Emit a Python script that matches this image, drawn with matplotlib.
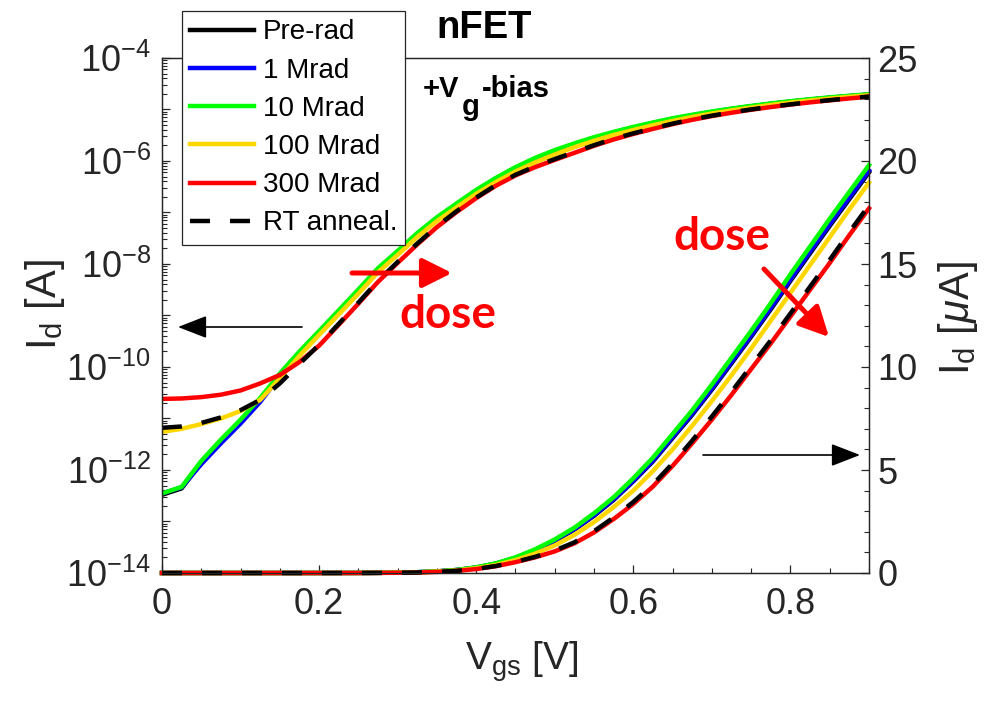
import matplotlib
matplotlib.use('Agg')
import matplotlib.pyplot as plt
import numpy as np
from matplotlib.ticker import FixedLocator, FuncFormatter, MultipleLocator, LogLocator

# gate voltage sweep [V]
vgs = [0.0, 0.025, 0.05, 0.075, 0.1, 0.125, 0.15, 0.175, 0.2, 0.225, 0.25, 0.275,
       0.3, 0.325, 0.35, 0.375, 0.4, 0.425, 0.45, 0.475, 0.5, 0.525, 0.55, 0.575,
       0.6, 0.625, 0.65, 0.675, 0.7, 0.725, 0.75, 0.775, 0.8, 0.825, 0.85, 0.875, 0.9]

# drain current [A]
id_prerad = [3.3e-13, 4.4e-13, 1.4e-12, 3.6e-12, 8.8e-12, 2.3e-11, 6.8e-11, 1.9e-10, 4.7e-10,
             1.2e-9, 3.05e-9, 7.9e-9, 1.7e-8, 3.8e-8, 7.7e-8, 1.43e-7, 2.62e-7, 4.48e-7, 7.25e-7,
             1.1e-6, 1.56e-6, 2.11e-6, 2.78e-6, 3.55e-6, 4.45e-6, 5.42e-6, 6.55e-6, 7.68e-6,
             8.9e-6, 10.18e-6, 11.47e-6, 12.8e-6, 14.18e-6, 15.52e-6, 16.85e-6, 18.15e-6, 19.45e-6]
id_1mrad = [3.5e-13, 4.6e-13, 1.3e-12, 3.3e-12, 8.0e-12, 2.1e-11, 6.6e-11, 1.9e-10, 4.75e-10,
            1.2e-9, 3.1e-9, 8.0e-9, 1.72e-8, 3.85e-8, 7.8e-8, 1.45e-7, 2.65e-7, 4.52e-7, 7.3e-7,
            1.11e-6, 1.58e-6, 2.13e-6, 2.8e-6, 3.58e-6, 4.48e-6, 5.46e-6, 6.6e-6, 7.73e-6,
            8.95e-6, 10.24e-6, 11.53e-6, 12.87e-6, 14.25e-6, 15.6e-6, 16.93e-6, 18.23e-6, 19.53e-6]
id_10mrad = [3.5e-13, 4.7e-13, 1.5e-12, 3.9e-12, 9.5e-12, 2.5e-11, 7.5e-11, 2.0e-10, 5.0e-10,
             1.26e-9, 3.2e-9, 8.3e-9, 1.8e-8, 4.0e-8, 8.1e-8, 1.5e-7, 2.75e-7, 4.7e-7, 7.6e-7,
             1.15e-6, 1.63e-6, 2.2e-6, 2.9e-6, 3.68e-6, 4.6e-6, 5.6e-6, 6.75e-6, 7.9e-6,
             9.15e-6, 10.45e-6, 11.75e-6, 13.1e-6, 14.5e-6, 15.85e-6, 17.2e-6, 18.5e-6, 19.8e-6]
id_100mrad = [5.5e-12, 6.3e-12, 7.8e-12, 1.0e-11, 1.4e-11, 2.3e-11, 6.0e-11, 1.65e-10, 4.2e-10,
              1.05e-9, 2.65e-9, 6.9e-9, 1.5e-8, 3.35e-8, 6.8e-8, 1.26e-7, 2.3e-7, 3.9e-7, 6.25e-7,
              9.4e-7, 1.34e-6, 1.85e-6, 2.47e-6, 3.2e-6, 4.0e-6, 4.95e-6, 6.0e-6, 7.15e-6,
              8.35e-6, 9.6e-6, 10.9e-6, 12.25e-6, 13.6e-6, 14.95e-6, 16.3e-6, 17.65e-6, 18.95e-6]
id_300mrad = [2.4e-11, 2.45e-11, 2.6e-11, 2.9e-11, 3.5e-11, 4.8e-11, 7.0e-11, 1.25e-10, 2.6e-10,
              6.6e-10, 1.7e-9, 4.5e-9, 1.05e-8, 2.4e-8, 5.2e-8, 1.02e-7, 1.9e-7, 3.3e-7, 5.25e-7,
              7.6e-7, 1.05e-6, 1.44e-6, 1.97e-6, 2.62e-6, 3.35e-6, 4.2e-6, 5.2e-6, 6.3e-6,
              7.45e-6, 8.65e-6, 9.9e-6, 11.15e-6, 12.45e-6, 13.75e-6, 15.05e-6, 16.4e-6, 17.7e-6]
id_anneal = [6.6e-12, 7.0e-12, 8.2e-12, 1.05e-11, 1.45e-11, 2.3e-11, 4.8e-11, 1.15e-10, 2.7e-10,
             6.9e-10, 1.78e-9, 4.7e-9, 1.1e-8, 2.5e-8, 5.4e-8, 1.06e-7, 1.95e-7, 3.4e-7, 5.4e-7,
             7.85e-7, 1.09e-6, 1.49e-6, 2.03e-6, 2.7e-6, 3.45e-6, 4.3e-6, 5.32e-6, 6.43e-6,
             7.6e-6, 8.8e-6, 10.05e-6, 11.3e-6, 12.6e-6, 13.9e-6, 15.2e-6, 16.55e-6, 17.85e-6]

labels = ['Pre-rad', '1 Mrad', '10 Mrad', '100 Mrad', '300 Mrad', 'RT anneal.']
currents = [id_prerad, id_1mrad, id_10mrad, id_100mrad, id_300mrad, id_anneal]
colors = ['#000000', '#0000FF', '#00FF00', '#FFD700', '#FF0000', '#000000']

plt.rcParams['font.family'] = ['Liberation Sans', 'DejaVu Sans']
plt.rcParams['mathtext.fontset'] = 'custom'
plt.rcParams['mathtext.rm'] = 'Liberation Sans'
plt.rcParams['mathtext.it'] = 'Liberation Sans:italic'
plt.rcParams['mathtext.bf'] = 'Liberation Sans:bold'

W, H = 987, 701
GREY = '#262626'


def fp(x, y):
    # pixel position (from top-left) -> figure fraction
    return (x / W, 1 - y / H)


fig = plt.figure(figsize=(W / 100, H / 100), dpi=100)
ax = fig.add_axes([162 / W, 1 - 573 / H, 707 / W, 515 / H])
ax2 = ax.twinx()

handles = []
for lab, cur, col in zip(labels, currents, colors):
    cur = np.array(cur)
    ls = (0, (4.5, 4.5)) if lab == 'RT anneal.' else '-'
    ax.plot(vgs, cur, color=col, lw=3.2, linestyle=ls)
    h, = ax2.plot(vgs, cur * 1e6, color=col, lw=3.2, linestyle=ls, clip_on=False)
    handles.append(h)

# left log axis
ax.set_yscale('log')
ax.set_ylim(1e-14, 1e-4)
ax.set_xlim(0, 0.9)
ax.yaxis.set_major_locator(FixedLocator([10.0 ** e for e in range(-14, -3)]))
ax.yaxis.set_minor_locator(LogLocator(base=10, subs=np.arange(2, 10), numticks=100))


def log_fmt(v, pos):
    e = int(round(np.log10(v)))
    return rf'$10^{{{e}}}$' if e % 2 == 0 else ''


ax.yaxis.set_major_formatter(FuncFormatter(log_fmt))
ax.xaxis.set_major_locator(FixedLocator([0, 0.2, 0.4, 0.6, 0.8]))
ax.xaxis.set_minor_locator(MultipleLocator(0.05))
ax.xaxis.set_major_formatter(FuncFormatter(lambda v, p: '0' if v == 0 else f'{v:.1f}'))

# right linear axis
ax2.set_ylim(0, 25)
ax2.yaxis.set_major_locator(MultipleLocator(5))
ax2.yaxis.set_minor_locator(MultipleLocator(1))

ax.tick_params(which='both', direction='in', top=False, right=False, colors=GREY, labelsize=26)
ax.tick_params(axis='y', pad=8)
ax.tick_params(axis='x', pad=10)
ax.tick_params(which='major', length=6, width=0.9)
ax.tick_params(which='minor', length=3.5, width=0.8)
ax2.tick_params(which='both', direction='in', colors=GREY, labelsize=26, pad=6)
ax2.tick_params(which='major', length=6, width=0.9)
ax2.tick_params(which='minor', length=3.5, width=0.8)
for a in (ax, ax2):
    for s in a.spines.values():
        s.set_color(GREY)
        s.set_linewidth(0.9)

# axis labels
fig.text(*fp(522, 662), r'V$_\mathrm{gs}$ [V]', ha='center', va='center', fontsize=28, color=GREY)
fig.text(*fp(45, 305), r'I$_\mathrm{d}$ [A]', ha='center', va='center', rotation=90, fontsize=30, color=GREY)
fig.text(*fp(958, 318), r'I$_\mathrm{d}$ [$\mu$A]', ha='center', va='center', rotation=90, fontsize=30, color=GREY)

# title and annotations
fig.text(*fp(484, 28), 'nFET', ha='center', va='center', fontsize=27.5, fontweight='bold')
fig.text(*fp(423, 97), '+V', ha='left', va='baseline', fontsize=21, fontweight='bold')
fig.text(*fp(462, 115), 'g', ha='left', va='baseline', fontsize=21, fontweight='bold')
fig.text(*fp(482, 97), '-bias', ha='left', va='baseline', fontsize=21, fontweight='bold')
fig.text(*fp(448, 315), 'dose', ha='center', va='center', fontsize=33, fontweight='bold',
         color='red', family=['Lato', 'DejaVu Sans'])
fig.text(*fp(722, 237), 'dose', ha='center', va='center', fontsize=33, fontweight='bold',
         color='red', family=['Lato', 'DejaVu Sans'])

black_arrow = dict(arrowstyle='-|>,head_length=0.9,head_width=0.35', color='black', lw=1.2,
                   mutation_scale=20, shrinkA=0, shrinkB=0)
red_arrow = dict(arrowstyle='-|>,head_length=0.9,head_width=0.45', color='red', lw=3.6,
                 mutation_scale=20, shrinkA=0, shrinkB=0)
ax2.annotate('', xy=fp(178, 327), xytext=fp(302, 327), xycoords='figure fraction',
             textcoords='figure fraction', arrowprops=black_arrow)
ax2.annotate('', xy=fp(860, 455), xytext=fp(703, 455), xycoords='figure fraction',
             textcoords='figure fraction', arrowprops=black_arrow)
ax2.annotate('', xy=fp(452, 273), xytext=fp(352, 273), xycoords='figure fraction',
             textcoords='figure fraction', arrowprops=red_arrow)
ax2.annotate('', xy=fp(829, 337), xytext=fp(764, 269), xycoords='figure fraction',
             textcoords='figure fraction', arrowprops=red_arrow)

leg = fig.legend(handles, labels, loc='upper left', bbox_to_anchor=fp(182, 11),
                 bbox_transform=fig.transFigure, borderaxespad=0, fontsize=20,
                 handlelength=2.3, handletextpad=0.3, labelspacing=0.44, borderpad=0.3,
                 fancybox=False, framealpha=1, edgecolor=GREY)
leg.get_frame().set_linewidth(0.9)

fig.savefig('out.png', dpi=100)
